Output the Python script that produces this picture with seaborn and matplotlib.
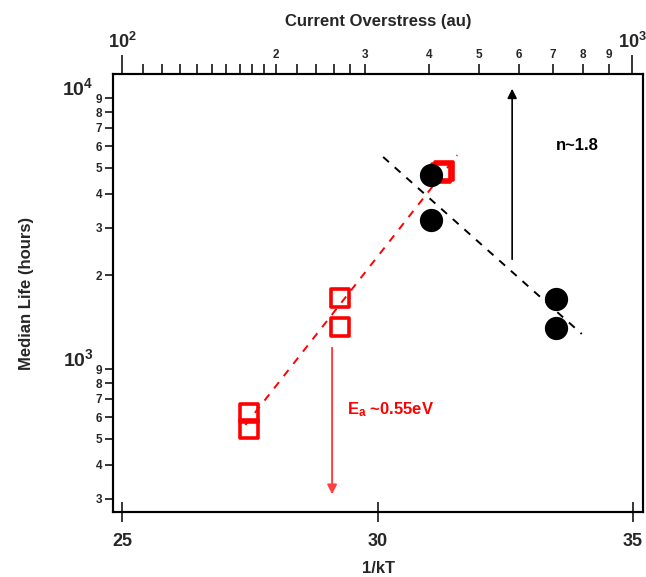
import numpy as np
import pandas as pd
import matplotlib
matplotlib.use("Agg")
import matplotlib.pyplot as plt
import seaborn as sns
from matplotlib.ticker import FixedLocator, FixedFormatter

# red squares: life vs 1/kT (bottom axis)
red_kt = [27.49, 27.49, 29.27, 29.27, 31.25, 31.31]
red_life = [621, 542, 1652, 1290, 4760, 4860]

# black circles: life vs current overstress (top axis)
blk_cur = [403, 403, 710, 710]
blk_life = [4700, 3205, 1637, 1279]

# fit lines (end points)
red_fit_kt = [27.41, 31.56]
red_fit_life = [561, 5556]
blk_fit_cur = [325, 797]
blk_fit_life = [5470, 1216]

# arrows
red_arrow_kt = 29.11
red_arrow_life = [1107, 304]
blk_arrow_cur = 582
blk_arrow_life = [2240, 10000]

sns.set_style("white")
plt.rcParams['font.family'] = ['Liberation Sans', 'DejaVu Sans']
plt.rcParams['font.weight'] = 'bold'
plt.rcParams['mathtext.fontset'] = 'custom'
plt.rcParams['mathtext.rm'] = 'Liberation Sans:bold'
plt.rcParams['mathtext.bf'] = 'Liberation Sans:bold'
plt.rcParams['mathtext.it'] = 'Liberation Sans:bold'


def pow_label(e):
    return r'$\mathbf{10^{%d}}$' % e


fig = plt.figure(figsize=(6.46, 5.77), dpi=100)
ax = fig.add_axes([0.175, 0.1127, 0.8204, 0.7591])
ax.set_yscale('log')
ax.set_xlim(24.82, 35.2)
ax.set_ylim(268, 11070)

red_df = pd.DataFrame({'kt': red_kt, 'life': red_life})
fit_df = pd.DataFrame({'kt': red_fit_kt, 'life': red_fit_life})
sns.lineplot(data=fit_df, x='kt', y='life', ax=ax, color='red', lw=1.4,
             linestyle=(0, (4, 4)), zorder=2)
sns.scatterplot(data=red_df, x='kt', y='life', ax=ax, marker='s', s=170,
                facecolor='none', edgecolor='red', linewidth=2.6, zorder=3)

ax.annotate('', xy=(red_arrow_kt, red_arrow_life[1]), xytext=(red_arrow_kt, red_arrow_life[0]),
            arrowprops=dict(arrowstyle='-|>', color='#ff4040', lw=1.4, mutation_scale=14))
ax.text(29.4, 640, r'E$_\mathbf{a}$ ~0.55eV', color='red', fontsize=12, fontweight='bold',
        va='center', ha='left')

ax.set_xlabel('1/kT', fontsize=12, fontweight='bold', labelpad=8)
ax.set_ylabel('Median Life (hours)', fontsize=12, fontweight='bold', labelpad=20)
ax.set_xticks([25, 30, 35])
ax.set_xticklabels(['25', '30', '35'], fontsize=13, fontweight='bold')
ax.tick_params(axis='x', which='major', direction='inout', length=14, width=1.3, pad=8)

yminor = [300, 400, 500, 600, 700, 800, 900, 2000, 3000, 4000, 5000, 6000, 7000, 8000, 9000]
ax.yaxis.set_major_locator(FixedLocator([1000, 10000]))
ax.yaxis.set_major_formatter(FixedFormatter([pow_label(3), pow_label(4)]))
ax.yaxis.set_minor_locator(FixedLocator(yminor))
ax.yaxis.set_minor_formatter(FixedFormatter([str(v)[0] for v in yminor]))
ax.tick_params(axis='y', which='major', direction='out', length=12, width=1.3, labelsize=14, pad=2)
ax.tick_params(axis='y', which='minor', direction='out', length=6, width=1.3, labelsize=8.5, pad=2,
               left=True)
for s in ax.spines.values():
    s.set_linewidth(1.5)
    s.set_color('black')

ax_top = ax.twiny()
ax_top.set_xscale('log')
ax_top.set_xlim(96, 1051)

blk_df = pd.DataFrame({'cur': blk_cur, 'life': blk_life})
bfit_df = pd.DataFrame({'cur': blk_fit_cur, 'life': blk_fit_life})
sns.lineplot(data=bfit_df, x='cur', y='life', ax=ax_top, color='black', lw=1.4,
             linestyle=(0, (4, 4)), zorder=2)
sns.scatterplot(data=blk_df, x='cur', y='life', ax=ax_top, color='black', s=240,
                edgecolor='black', zorder=4)
ax_top.annotate('', xy=(blk_arrow_cur, blk_arrow_life[1]), xytext=(blk_arrow_cur, blk_arrow_life[0]),
                arrowprops=dict(arrowstyle='-|>', color='black', lw=1.2, mutation_scale=14))
ax_top.text(710, 6050, 'n~1.8', color='black', fontsize=12, fontweight='bold', va='center', ha='left')

ax_top.xaxis.set_major_locator(FixedLocator([100, 1000]))
ax_top.xaxis.set_major_formatter(FixedFormatter([pow_label(2), pow_label(3)]))
top_minor = [110, 120, 130, 140, 150, 160, 170, 180, 190, 200, 220, 240, 260, 280,
             300, 400, 500, 600, 700, 800, 900]
top_lbl = {200: '2', 300: '3', 400: '4', 500: '5', 600: '6', 700: '7', 800: '8', 900: '9'}
ax_top.xaxis.set_minor_locator(FixedLocator(top_minor))
ax_top.xaxis.set_minor_formatter(FixedFormatter([top_lbl.get(v, '') for v in top_minor]))
ax_top.tick_params(axis='x', which='major', direction='out', length=14, width=1.3, labelsize=13, pad=2)
ax_top.tick_params(axis='x', which='minor', direction='out', length=7, width=1.3, labelsize=8.5, pad=2)
ax_top.set_xlabel('Current Overstress (au)', fontsize=12, fontweight='bold', labelpad=4)
ax_top.set_ylabel('')
ax_top.tick_params(axis='y', which='both', left=False, right=False, labelleft=False, labelright=False)
for s in ax_top.spines.values():
    s.set_linewidth(1.5)
    s.set_color('black')

fig.savefig('out.png', dpi=100)
